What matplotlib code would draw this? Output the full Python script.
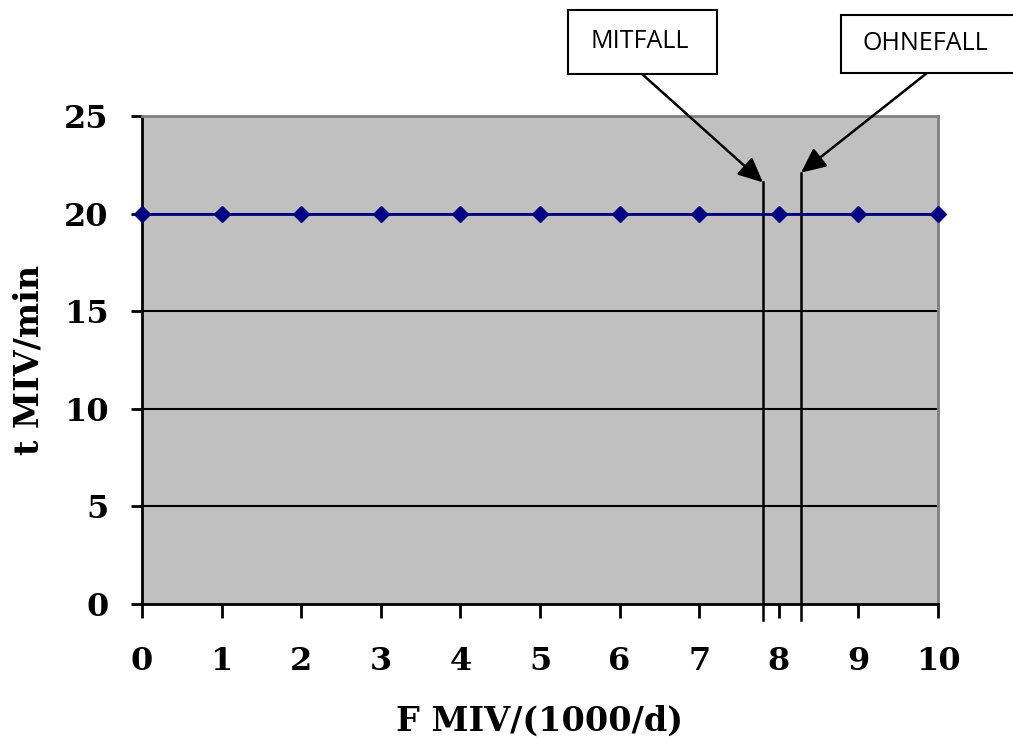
import matplotlib
matplotlib.use("Agg")
import matplotlib.pyplot as plt
from matplotlib.patches import Rectangle

x_vals = [0, 1, 2, 3, 4, 5, 6, 7, 8, 9, 10]
t_vals = [20, 20, 20, 20, 20, 20, 20, 20, 20, 20, 20]
y_ticks = [0, 5, 10, 15, 20, 25]
mit_x, mit_top = 7.8, 21.6
ohne_x, ohne_top = 8.28, 22.1
line_bottom = -0.8

W, H = 1013, 751
fig = plt.figure(figsize=(W/100, H/100), dpi=100)
ax = fig.add_axes([142/W, 1-604/H, (938-142)/W, (604-116)/H])
ax.set_facecolor('#c0c0c0')
ax.set_xlim(0, 10)
ax.set_ylim(0, 25)

for yv in y_ticks[1:-1]:
    ax.axhline(yv, color='black', lw=1.5, zorder=1)

ax.plot(x_vals, t_vals, color='#000080', lw=2, marker='D', markersize=8,
        zorder=5, clip_on=False)

ax.plot([mit_x, mit_x], [line_bottom, mit_top], color='black', lw=1.8, clip_on=False, zorder=4)
ax.plot([ohne_x, ohne_x], [line_bottom, ohne_top], color='black', lw=1.8, clip_on=False, zorder=4)

tfont = dict(family='DejaVu Serif', weight='bold', size=23)
ax.set_xticks(x_vals)
ax.set_xticklabels([str(v) for v in x_vals], **tfont)
ax.set_yticks(y_ticks)
ax.set_yticklabels([str(v) for v in y_ticks], **tfont)
ax.tick_params(axis='x', direction='out', length=10, width=2, pad=20)
ax.tick_params(axis='y', direction='out', length=8, width=2, pad=16)

ax.spines['left'].set_linewidth(2)
ax.spines['bottom'].set_linewidth(2)
for s in ('top', 'right'):
    ax.spines[s].set_color('#808080')
    ax.spines[s].set_linewidth(2)

lfont = dict(family='DejaVu Serif', weight='bold', size=24)
ax.set_xlabel('F MIV/(1000/d)', fontdict=lfont, labelpad=20)
ax.set_ylabel('t MIV/min', fontdict=lfont, labelpad=13)

def fx(px):
    return px / W

def fy(py):
    return 1 - py / H

# annotation boxes (pixel positions of the reference)
boxes = [
    ('MITFALL', (568, 10, 717, 74), 640, (642, 74), (mit_x, mit_top)),
    ('OHNEFALL', (841, 15, 1020, 73), 925, (927, 73), (ohne_x, ohne_top)),
]
for label, (x0, y0, x1, y1), tx, start, target in boxes:
    fig.add_artist(Rectangle((fx(x0), fy(y1)), fx(x1) - fx(x0), fy(y0) - fy(y1),
                             transform=fig.transFigure, fc='white', ec='black',
                             lw=1.5, clip_on=False, zorder=10))
    fig.text(fx(tx), fy((y0 + y1) / 2), label, ha='center', va='center',
             fontsize=18, family='Open Sans', zorder=11)
    ax.annotate('', xy=target, xycoords='data',
                xytext=(fx(start[0]), fy(start[1])), textcoords='figure fraction',
                arrowprops=dict(arrowstyle='-|>,head_length=0.75,head_width=0.35',
                                color='black', lw=1.8, mutation_scale=20,
                                shrinkA=0, shrinkB=0),
                annotation_clip=False)

fig.savefig('out.png', dpi=100)
